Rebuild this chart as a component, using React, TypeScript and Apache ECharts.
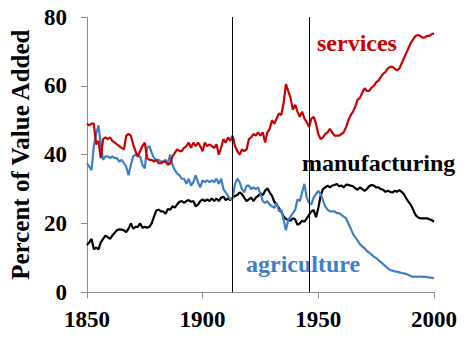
import React, { useEffect, useRef } from "react";
import * as echarts from "echarts";

const START_YEAR = 1850;
const X_TICKS = [1850, 1900, 1950, 2000];
const Y_TICKS = [0, 20, 40, 60, 80];
const EVENT_YEARS = [1913, 1946];

const servicesValues = [
  49, 48.5, 49, 49, 43, 44, 39, 44.5, 45, 44.5,
  45, 44, 43.5, 43, 42.5, 42, 41.5, 45.5, 46, 45.5,
  43, 41, 39.5, 41, 42.5, 43.5, 39, 38.5, 38.5, 38,
  38.5, 37.5, 37.5, 38, 38, 37, 37.5, 39.5, 40.5, 41.5,
  41, 41, 42, 42.5, 43.5, 42, 43.5, 42.5, 43.5, 42.5,
  41, 43.5, 42.5, 43, 42.5, 42, 43, 40, 42, 44.5,
  43.5, 45, 44, 45.5, 42.5, 41, 40, 41.5, 41, 41.5,
  44.5, 45, 46, 45.5, 46.5, 45.5, 46.5, 43.5, 46.5, 47.5,
  50, 49, 50.5, 52, 51.5, 55, 60.5, 58.5, 56.5, 53,
  54.5, 52.5, 51, 52.5, 50.5, 49.5, 48, 50.5, 51, 49,
  46, 44.5, 45, 46, 46.5, 47.5, 46.5, 45.5, 45.5, 45.5,
  46, 46.5, 48, 50, 51.5, 52.5, 54, 56, 56.5, 58,
  59.3, 58.5, 58.5, 59.5, 60, 61, 61.5, 62.5, 63.5, 64,
  65, 65.5, 65.5, 65, 64.5, 65, 66.5, 68, 69.5, 71,
  72.5, 73.5, 74.5, 74.8, 74.5, 74, 74, 74.5, 74.5, 75,
  75.3,
];

const manufacturingValues = [
  13.7, 14.5, 15.5, 12.5, 13, 12.5, 14.5, 15.5, 16.5, 16,
  15.5, 16.5, 17.3, 18, 18.3, 18.2, 18, 17.5, 18.5, 20,
  18.5, 19, 19, 20, 18.8, 19, 18.8, 19, 20, 22,
  23.8, 24, 23.5, 23.5, 22.8, 24.2, 24, 25, 24.6, 25.5,
  26.3, 26.5, 26, 26.5, 26.8, 26.3, 26.5, 25, 25.5, 26.5,
  27, 26.5, 27, 26.5, 27.3, 26.5, 27.3, 26.5, 27.5, 27.8,
  26.8, 27.3, 26.8, 27.5, 28, 28.3, 29, 28.5, 27.5, 26.5,
  27, 27.5, 26.5, 27.5, 28, 28.8, 28.2, 29.5, 30.2, 29,
  28, 26.3, 25.5, 24.5, 23.4, 22, 21.3, 21, 20.8, 21.5,
  21.2, 19.6, 20, 20.8, 20.5, 21.5, 22.5, 23.5, 23.9, 21.8,
  24.5, 28, 30, 30.5, 31, 30.5, 31, 31.2, 31.5, 30.8,
  31, 30.5, 31.3, 31.2, 31, 30.8, 30.2, 29.8, 30.5, 30,
  29.5, 30, 30.8, 31.2, 31, 30.5, 30.5, 30, 29.8, 29.2,
  29.5, 29.2, 29, 29.5, 29.2, 29.7, 29.2, 28.5, 27.3, 26.3,
  25.4, 24, 22.5, 21.8, 21.5, 21.5, 21.5, 21.5, 21.2, 21,
  20.5,
];

const agricultureValues = [
  37.5, 36.5, 35.5, 42.5, 46, 48.5, 43, 38.5, 39.5, 39.5,
  39, 39.5, 39, 39, 38, 38.5, 37.5, 36.5, 34, 37,
  39.5, 40, 39.5, 39.5, 37, 36, 42, 42.5, 40.5, 39,
  38.5, 38.5, 38, 38, 38.5, 37.5, 40, 37, 35.5, 34.5,
  34, 33, 33, 31.5, 33, 31, 32, 34, 32, 30.5,
  32.5, 32, 32.5, 32, 32.5, 32, 33, 31.5, 33, 30,
  29, 28, 27, 27.5, 31.5, 33, 32, 30, 29, 31,
  31, 30, 30.5, 30, 30.5, 28.5, 26.5, 26, 26.5, 25.5,
  25, 24.5, 26, 23.5, 24, 21, 18, 21, 22, 23,
  24, 27, 26.5, 29, 31.5, 27.5, 26, 25.5, 27.5, 28.5,
  29.5, 28.5, 26.8, 25, 24, 23.5, 23.5, 23.5, 23, 23,
  22.5, 22, 21.5, 20, 18.5, 17, 16, 15, 14, 13.3,
  12.8, 12, 11.5, 11, 10.3, 10, 9.3, 8.8, 8.2, 7.6,
  7, 6.5, 6.3, 6.1, 6, 5.8, 5.6, 5.5, 5.3, 5,
  4.7, 4.5, 4.6, 4.5, 4.6, 4.5, 4.5, 4.4, 4.3, 4.2,
  4.1,
];

const SERIES_NAMES = ["services", "manufacturing", "agriculture"];
const COLORS = ["#cc0000", "#000000", "#3f7fca"];

const toPairs = (vals: number[]) => vals.map((v, i) => [START_YEAR + i, v]);

const FONT = "'Liberation Serif', 'Times New Roman', serif";

export default function App() {
  const ref = useRef<HTMLDivElement>(null);
  useEffect(() => {
    if (!ref.current) return;
    const chart = echarts.init(ref.current, undefined, { renderer: "svg" });
    const axisGray = "#8c8c8c";
    chart.setOption({
      animation: false,
      grid: { left: 84, top: 17, width: 350, height: 275.3, containLabel: false },
      xAxis: {
        type: "value",
        min: X_TICKS[0],
        max: X_TICKS[X_TICKS.length - 1],
        interval: 50,
        splitLine: { show: false },
        axisLine: { show: true, lineStyle: { color: axisGray, width: 1 } },
        axisTick: { show: true, length: 6, lineStyle: { color: axisGray } },
        axisLabel: {
          margin: 16,
          color: "#000",
          fontFamily: FONT,
          fontWeight: "bold",
          fontSize: 23,
          formatter: (v: number) => String(v),
        },
      },
      yAxis: {
        type: "value",
        min: Y_TICKS[0],
        max: Y_TICKS[Y_TICKS.length - 1],
        interval: 20,
        splitLine: { show: false },
        axisLine: { show: true, lineStyle: { color: axisGray, width: 1 } },
        axisTick: { show: true, length: 6, lineStyle: { color: axisGray } },
        axisLabel: {
          margin: 20,
          color: "#000",
          fontFamily: FONT,
          fontWeight: "bold",
          fontSize: 23,
        },
        name: "Percent of Value Added",
        nameLocation: "middle",
        nameGap: 46,
        nameTextStyle: {
          color: "#000",
          fontFamily: FONT,
          fontWeight: "bold",
          fontSize: 25,
        },
      },
      series: [
        {
          name: SERIES_NAMES[0],
          type: "line",
          data: toPairs(servicesValues),
          showSymbol: false,
          symbol: "none",
          lineStyle: { color: COLORS[0], width: 2.2 },
          itemStyle: { color: COLORS[0] },
          z: 3,
          markLine: {
            silent: true,
            symbol: ["none", "none"],
            label: { show: false },
            lineStyle: { color: "#000", width: 1, type: "solid" },
            data: EVENT_YEARS.map((y) => ({ xAxis: y })),
          },
        },
        {
          name: SERIES_NAMES[1],
          type: "line",
          data: toPairs(manufacturingValues),
          showSymbol: false,
          symbol: "none",
          lineStyle: { color: COLORS[1], width: 2.2 },
          itemStyle: { color: COLORS[1] },
          z: 2,
        },
        {
          name: SERIES_NAMES[2],
          type: "line",
          data: toPairs(agricultureValues),
          showSymbol: false,
          symbol: "none",
          lineStyle: { color: COLORS[2], width: 2.2 },
          itemStyle: { color: COLORS[2] },
          z: 2,
        },
      ],
      graphic: [
        {
          type: "text",
          left: 317,
          top: 31,
          style: {
            text: SERIES_NAMES[0],
            fill: COLORS[0],
            font: `bold 24px ${FONT}`,
          },
        },
        {
          type: "text",
          left: 302,
          top: 151,
          style: {
            text: SERIES_NAMES[1],
            fill: COLORS[1],
            font: `bold 24px ${FONT}`,
          },
        },
        {
          type: "text",
          left: 246,
          top: 252,
          style: {
            text: SERIES_NAMES[2],
            fill: COLORS[2],
            font: `bold 24px ${FONT}`,
          },
        },
      ],
    });
    return () => chart.dispose();
  }, []);
  return <div ref={ref} style={{ width: 467, height: 339, position: "absolute", left: 0, top: 0 }} />;
}
